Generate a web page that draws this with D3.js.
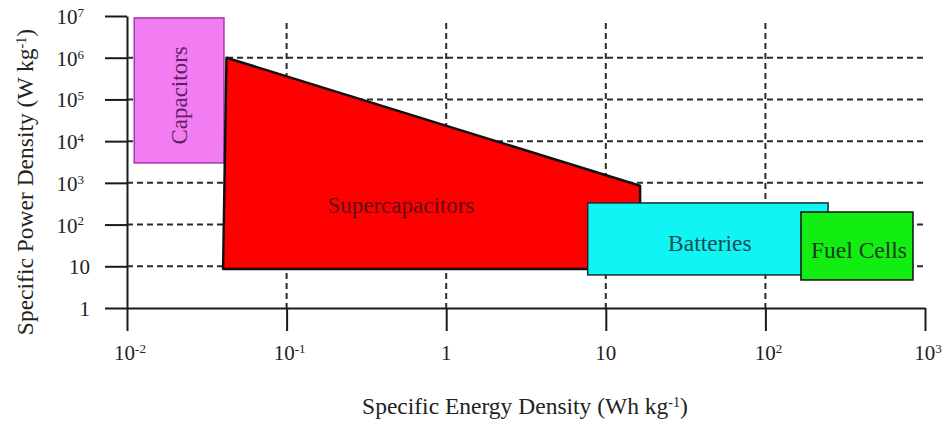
<!DOCTYPE html>
<html>
<head>
<meta charset="utf-8">
<script src="https://cdn.jsdelivr.net/npm/d3@7"></script>
<style>
  body { margin: 0; background: #fff; }
  svg { display: block; font-family: "Liberation Serif", "Times New Roman", serif; }
</style>
</head>
<body>
<script>
// axis ticks (powers of ten)
var xExponents = [-2, -1, 0, 1, 2, 3];
var yExponents = [0, 1, 2, 3, 4, 5, 6, 7];
var xGridExponents = [-1, 0, 1, 2];
var yGridExponents = [1, 2, 3, 4, 5, 6];

// rectangular regions: energy (Wh/kg) and power (W/kg) ranges
var boxNames = ["Capacitors", "Batteries", "Fuel Cells"];
var boxEnergyMin = [0.0111, 7.7, 167];
var boxEnergyMax = [0.0405, 247, 841];
var boxPowerMin = [3000, 6.2, 4.7];
var boxPowerMax = [9.0e6, 330, 200];
var boxFill = ["#f27cf2", "#10f4f4", "#12ee12"];
var boxStroke = ["#a43aa4", "#1c2a2a", "#111111"];
var boxTextColor = ["#5e1f5e", "#1d4a52", "#1c3a1c"];

// supercapacitor polygon
var superEnergy = [0.040, 0.042, 16.4, 16.4];
var superPower = [8.6, 1.0e6, 850, 8.6];
var superLabel = {name: "Supercapacitors", energy: 0.52, power: 300};

var width = 948, height = 423;

var svg = d3.select("body").append("svg")
    .attr("width", width)
    .attr("height", height);

// set the scales (log-log)
var x = d3.scaleLog().domain([1e-2, 1e3]).range([127, 925]);
var y = d3.scaleLog().domain([1, 1e7]).range([308, 16]);

function fmtExp(sel, e) {
    // writes 10^e with superscript, "1" and "10" plain
    if (e === 0) { sel.append("tspan").text("1"); return; }
    if (e === 1) { sel.append("tspan").text("10"); return; }
    sel.append("tspan").text("10");
    sel.append("tspan")
        .attr("dy", "-0.55em")
        .attr("font-size", "0.62em")
        .text(e < 0 ? "-" + (-e) : e);
}

// dashed grid
var grid = svg.append("g")
    .attr("stroke", "#2b2b2b")
    .attr("stroke-width", 2)
    .attr("stroke-dasharray", "6,4");

grid.selectAll("line.gy")
    .data(yGridExponents)
    .enter().append("line")
        .attr("class", "gy")
        .attr("x1", x(1e-2))
        .attr("x2", x(1e3))
        .attr("y1", function(d) { return y(Math.pow(10, d)); })
        .attr("y2", function(d) { return y(Math.pow(10, d)); });

grid.selectAll("line.gx")
    .data(xGridExponents)
    .enter().append("line")
        .attr("class", "gx")
        .attr("x1", function(d) { return x(Math.pow(10, d)); })
        .attr("x2", function(d) { return x(Math.pow(10, d)); })
        .attr("y1", y(1e7) + 7)
        .attr("y2", y(1));

// capacitors box (drawn first)
function drawBox(i) {
    svg.append("rect")
        .attr("x", x(boxEnergyMin[i]))
        .attr("y", y(boxPowerMax[i]))
        .attr("width", x(boxEnergyMax[i]) - x(boxEnergyMin[i]))
        .attr("height", y(boxPowerMin[i]) - y(boxPowerMax[i]))
        .attr("fill", boxFill[i])
        .attr("stroke", boxStroke[i])
        .attr("stroke-width", 1.5);
}

function boxCenter(i) {
    var cx = (x(boxEnergyMin[i]) + x(boxEnergyMax[i])) / 2;
    var cy = (y(boxPowerMin[i]) + y(boxPowerMax[i])) / 2;
    return [cx, cy];
}

drawBox(0);

// supercapacitors
var superPts = superEnergy.map(function(e, i) { return [x(e), y(superPower[i])]; });
svg.append("path")
    .attr("d", d3.line()(superPts) + "Z")
    .attr("fill", "#ff0000")
    .attr("stroke", "#111")
    .attr("stroke-width", 2.5)
    .attr("stroke-linejoin", "round");

svg.append("text")
    .attr("x", x(superLabel.energy))
    .attr("y", y(superLabel.power))
    .attr("dy", "0.35em")
    .attr("text-anchor", "middle")
    .attr("font-size", 23)
    .attr("fill", "#5a1010")
    .text(superLabel.name);

drawBox(1);
drawBox(2);

// box labels
var c0 = boxCenter(0);
svg.append("text")
    .attr("transform", "translate(" + (c0[0] + 8) + "," + (c0[1] + 5) + ") rotate(-90)")
    .attr("text-anchor", "middle")
    .attr("font-size", 23)
    .attr("fill", boxTextColor[0])
    .text(boxNames[0]);

[1, 2].forEach(function(i) {
    var c = boxCenter(i);
    svg.append("text")
        .attr("x", c[0] + 2)
        .attr("y", c[1] + 4)
        .attr("dy", "0.35em")
        .attr("text-anchor", "middle")
        .attr("font-size", 23.5)
        .attr("fill", boxTextColor[i])
        .text(boxNames[i]);
});

// Y axis
var yAxis = svg.append("g")
    .attr("transform", "translate(" + x(1e-2) + ",0)")
    .call(d3.axisLeft(y)
        .tickValues(yExponents.map(function(e) { return Math.pow(10, e); }))
        .tickSize(22)
        .tickSizeOuter(0)
        .tickFormat(""));

// X axis
var xAxis = svg.append("g")
    .attr("transform", "translate(0," + y(1) + ")")
    .call(d3.axisBottom(x)
        .tickValues(xExponents.map(function(e) { return Math.pow(10, e); }))
        .tickSize(23)
        .tickSizeOuter(0)
        .tickFormat(""));

[yAxis, xAxis].forEach(function(a) {
    a.selectAll("path, line")
        .attr("stroke", "#1a1a1a")
        .attr("stroke-width", 2);
});

// tick labels
svg.selectAll("text.ylab")
    .data(yExponents)
    .enter().append("text")
        .attr("class", "ylab")
        .attr("x", function(d) { return d <= 1 ? 90 : 84; })
        .attr("y", function(d) { return y(Math.pow(10, d)) + 8; })
        .attr("text-anchor", "end")
        .attr("font-size", 21)
        .attr("fill", "#222")
        .each(function(d) { fmtExp(d3.select(this), d); });

svg.selectAll("text.xlab")
    .data(xExponents)
    .enter().append("text")
        .attr("class", "xlab")
        .attr("x", function(d) { return x(Math.pow(10, d)) + (d === 0 || d === 1 ? 0 : 3); })
        .attr("y", 360)
        .attr("text-anchor", "middle")
        .attr("font-size", 21)
        .attr("fill", "#222")
        .each(function(d) { fmtExp(d3.select(this), d); });

// axis titles
var xt = svg.append("text")
    .attr("x", 525)
    .attr("y", 414)
    .attr("text-anchor", "middle")
    .attr("font-size", 23.5)
    .attr("fill", "#222");
xt.append("tspan").text("Specific Energy Density (Wh kg");
xt.append("tspan").attr("dy", "-0.5em").attr("font-size", "0.6em").text("-1");
xt.append("tspan").attr("dy", "0.3em").text(")");

var yt = svg.append("text")
    .attr("transform", "translate(33,182) rotate(-90)")
    .attr("text-anchor", "middle")
    .attr("font-size", 23.5)
    .attr("fill", "#222");
yt.append("tspan").text("Specific Power Density (W kg");
yt.append("tspan").attr("dy", "-0.5em").attr("font-size", "0.6em").text("-1");
yt.append("tspan").attr("dy", "0.3em").text(")");
</script>
</body>
</html>
